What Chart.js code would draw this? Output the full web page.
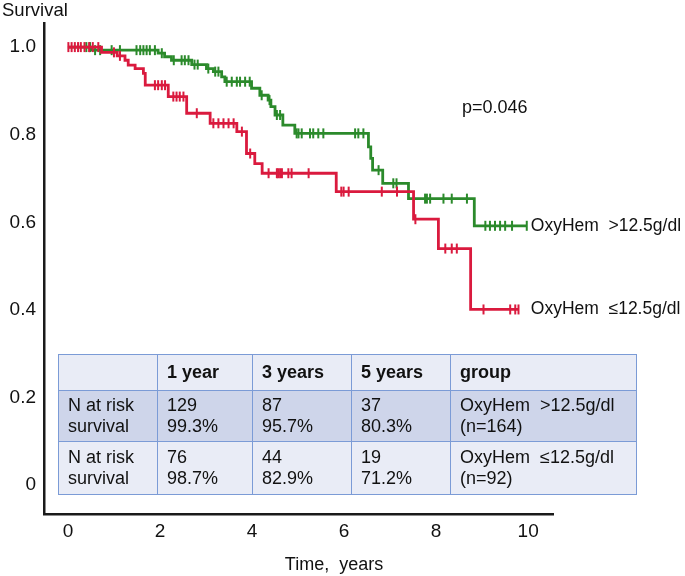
<!DOCTYPE html>
<html>
<head>
<meta charset="utf-8">
<script src="https://cdn.jsdelivr.net/npm/chart.js@4/dist/chart.umd.min.js"></script>
<style>
  body { margin: 0; background: #fff; }
  #wrap { position: relative; width: 685px; height: 576px; }
  #risk { position: absolute; left: 58px; top: 354px; border-collapse: collapse; table-layout: fixed;
          font-family: "Liberation Sans", Arial, sans-serif; font-size: 18px; color: #111; }
  #risk td { border: 1px solid #7B9BD6; padding: 0 0 0 9px; line-height: 21px; vertical-align: middle; white-space: nowrap; }
  #risk tr.head td { background: #E9ECF6; height: 35px; font-weight: bold; }
  #risk tr.r1 td { background: #CED5EA; height: 50px; }
  #risk tr.r2 td { background: #E9ECF6; height: 52px; }
</style>
</head>
<body>
<div id="wrap">
  <canvas id="chart" width="685" height="576"></canvas>
  <table id="risk">
    <colgroup><col style="width:99px"><col style="width:95px"><col style="width:99px"><col style="width:99px"><col style="width:186px"></colgroup>
    <tr class="head"><td></td><td>1 year</td><td>3 years</td><td>5 years</td><td>group</td></tr>
    <tr class="r1"><td>N at risk<br>survival</td><td>129<br>99.3%</td><td>87<br>95.7%</td><td>37<br>80.3%</td><td>OxyHem&nbsp; &gt;12.5g/dl<br>(n=164)</td></tr>
    <tr class="r2"><td>N at risk<br>survival</td><td>76<br>98.7%</td><td>44<br>82.9%</td><td>19<br>71.2%</td><td>OxyHem&nbsp; ≤12.5g/dl<br>(n=92)</td></tr>
  </table>
</div>
<script>
// Kaplan-Meier steps (time in years, survival)
var highTimes = [0, 0.5, 1.96, 2.1, 2.25, 2.69, 3.01, 3.16, 3.34, 3.41, 3.99, 4.17, 4.35, 4.41, 4.5, 4.67, 4.93, 6.53, 6.58, 6.62, 6.84, 7.4, 8.83, 9.97];
var highSurv = [1.0, 0.993, 0.986, 0.978, 0.970, 0.960, 0.951, 0.944, 0.932, 0.921, 0.906, 0.890, 0.879, 0.864, 0.845, 0.822, 0.803, 0.772, 0.746, 0.719, 0.689, 0.654, 0.592, 0.592];
var lowTimes = [0, 0.73, 1.07, 1.24, 1.31, 1.46, 1.64, 1.68, 2.18, 2.58, 3.09, 3.67, 3.88, 4.06, 4.22, 5.83, 7.51, 8.05, 8.75, 9.79];
var lowSurv = [1.0, 0.988, 0.980, 0.970, 0.959, 0.951, 0.940, 0.913, 0.887, 0.849, 0.826, 0.807, 0.757, 0.734, 0.712, 0.670, 0.607, 0.540, 0.401, 0.401];

// censored observations (times)
var highCensor = [0.40, 0.48, 0.59, 0.70, 0.95, 1.13, 1.49, 1.57, 1.64, 1.71, 1.78, 1.89, 2.04, 2.3, 2.47, 2.54, 2.62, 2.75, 2.82, 3.05, 3.2, 3.27, 3.45, 3.56, 3.67, 3.74, 3.85, 3.95, 4.21, 4.38, 4.54, 4.61, 4.97, 5.01, 5.08, 5.26, 5.33, 5.44, 5.55, 6.24, 6.31, 6.42, 6.75, 7.07, 7.14, 7.76, 7.80, 7.87, 8.16, 8.34, 8.67, 9.07, 9.17, 9.28, 9.39, 9.50, 9.65, 9.97];
var lowCensor = [0.01, 0.08, 0.15, 0.22, 0.28, 0.36, 0.46, 0.54, 0.66, 1.0, 1.13, 1.89, 1.96, 2.04, 2.11, 2.29, 2.36, 2.43, 2.51, 2.80, 3.16, 3.27, 3.38, 3.49, 3.60, 3.78, 3.96, 4.36, 4.54, 4.57, 4.61, 4.65, 4.79, 4.86, 5.23, 5.94, 5.99, 6.1, 6.82, 7.15, 7.55, 8.2, 8.34, 8.45, 9.03, 9.61, 9.72, 9.79];

var xTicks = [0, 2, 4, 6, 8, 10];
var yTicks = [0, 0.2, 0.4, 0.6, 0.8, 1.0];
var groupLabels = ['OxyHem  >12.5g/dl', 'OxyHem  \u226412.5g/dl'];
var pValue = 'p=0.046';

var green = '#2B8A2B';
var red = '#DA1A3E';
var font = '"Liberation Sans", Arial, sans-serif';

function pts(times, surv) {
  return times.map(function(t, i) { return {x: t, y: surv[i]}; });
}

// survival level in force at time t (value of the step, for placing a censor mark)
function survAt(times, surv, t) {
  var s = surv[0];
  for (var i = 0; i < times.length; i++) {
    if (times[i] <= t) s = surv[i];
  }
  return s;
}

function censorPts(c, times, surv) {
  return c.map(function(t) { return {x: t, y: survAt(times, surv, t)}; });
}

var textPlugin = {
  id: 'texts',
  afterDraw: function(chart) {
    var ctx = chart.ctx;
    var xs = chart.scales.x, ys = chart.scales.y;
    var lx = xs.getPixelForValue(highTimes[highTimes.length - 1]) + 4;
    ctx.save();
    ctx.fillStyle = '#111';
    ctx.textBaseline = 'middle';
    ctx.textAlign = 'left';
    ctx.font = '18.5px ' + font;
    ctx.fillText('Survival', 2, 11);
    ctx.font = '18px ' + font;
    ctx.fillText(pValue, 462, 108);
    ctx.font = '17.5px ' + font;
    ctx.fillText(groupLabels[0], lx, ys.getPixelForValue(highSurv[highSurv.length - 1]));
    ctx.fillText(groupLabels[1], lx, ys.getPixelForValue(lowSurv[lowSurv.length - 1]));
    ctx.font = '18px ' + font;
    ctx.textAlign = 'center';
    ctx.fillText('Time,  years', 334, 565);
    ctx.restore();
  }
};

var ctx = document.getElementById('chart');
var myChart = new Chart(ctx, {
  type: 'line',
  data: {
    datasets: [{
      data: pts(lowTimes, lowSurv),
      borderColor: red,
      borderWidth: 2.8,
      stepped: 'before',
      pointRadius: 0,
      fill: false
    }, {
      data: censorPts(lowCensor, lowTimes, lowSurv),
      showLine: false,
      pointStyle: 'line',
      rotation: 90,
      pointRadius: 5,
      pointBorderWidth: 2,
      borderColor: red,
      backgroundColor: red
    }, {
      data: pts(highTimes, highSurv),
      borderColor: green,
      borderWidth: 2.8,
      stepped: 'before',
      pointRadius: 0,
      fill: false
    }, {
      data: censorPts(highCensor, highTimes, highSurv),
      showLine: false,
      pointStyle: 'line',
      rotation: 90,
      pointRadius: 5,
      pointBorderWidth: 2,
      borderColor: green,
      backgroundColor: green
    }]
  },
  options: {
    responsive: false,
    animation: false,
    layout: { padding: { top: 23, right: 132, left: 0, bottom: 0 } },
    plugins: { legend: { display: false }, tooltip: { enabled: false } },
    scales: {
      x: {
        type: 'linear',
        min: -0.52,
        max: 10.54,
        afterBuildTicks: function(s) { s.ticks = xTicks.map(function(v) { return {value: v}; }); },
        afterFit: function(s) { s.height = 62; },
        grid: { display: false, drawTicks: false },
        border: { display: true, color: '#1a1a1a', width: 2.5 },
        ticks: { color: '#111', padding: 6, font: { size: 19, family: font }, maxRotation: 0 }
      },
      y: {
        type: 'linear',
        min: -0.066,
        max: 1.055,
        afterBuildTicks: function(s) { s.ticks = yTicks.map(function(v) { return {value: v}; }); },
        afterFit: function(s) { s.width = 44; },
        grid: { display: false, drawTicks: false },
        border: { display: true, color: '#1a1a1a', width: 2.5 },
        ticks: {
          color: '#111', padding: 8, font: { size: 19, family: font },
          callback: function(v) { return v === 0 ? '0' : v.toFixed(1); }
        }
      }
    }
  },
  plugins: [textPlugin]
});
</script>
</body>
</html>
